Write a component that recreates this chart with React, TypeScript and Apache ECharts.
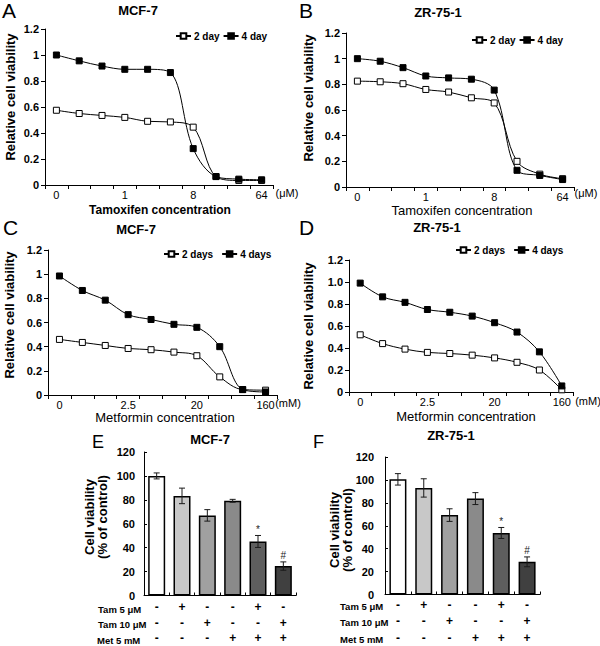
import React, { useEffect, useRef } from "react";
import * as echarts from "echarts";

const FONT = "'Liberation Sans', Arial, Helvetica, sans-serif";

// ---- Data ----
const tamCats = ["0", "0.25", "0.5", "1", "2", "4", "8", "16", "32", "64"];
const metCats = ["0", "0.625", "1.25", "2.5", "5", "10", "20", "40", "80", "160"];

const aDay2 = [0.575, 0.55, 0.535, 0.52, 0.49, 0.485, 0.445, 0.065, 0.035, 0.035];
const aDay4 = [1.0, 0.955, 0.915, 0.89, 0.89, 0.865, 0.28, 0.065, 0.045, 0.04];

const bDay2 = [0.825, 0.82, 0.805, 0.76, 0.74, 0.695, 0.655, 0.2, 0.1, 0.065];
const bDay4 = [1.0, 0.98, 0.93, 0.865, 0.85, 0.84, 0.755, 0.13, 0.09, 0.058];

const cDay2 = [0.46, 0.435, 0.41, 0.385, 0.375, 0.355, 0.325, 0.15, 0.045, 0.04];
const cDay4 = [0.985, 0.865, 0.785, 0.665, 0.625, 0.585, 0.56, 0.4, 0.045, 0.025];

const dDay2 = [0.52, 0.44, 0.39, 0.36, 0.35, 0.335, 0.31, 0.27, 0.2, 0.02];
const dDay4 = [0.99, 0.865, 0.815, 0.75, 0.725, 0.69, 0.63, 0.545, 0.365, 0.055];

const barCats = ["Control", "Tam 5", "Tam 10", "Met 5", "Tam 5 + Met 5", "Tam 10 + Met 5"];
const tam5Row = ["-", "+", "-", "-", "+", "-"];
const tam10Row = ["-", "-", "+", "-", "-", "+"];
const met5Row = ["-", "-", "-", "+", "+", "+"];
const rowLabels = ["Tam 5 μM", "Tam 10 μM", "Met 5 mM"];

const eVals = [100, 83.3, 67, 79.2, 45.2, 24.6];
const eErr = [2.5, 6.5, 4.8, 1.2, 5, 3.5];
const fVals = [100.5, 93, 69.3, 83.7, 53.7, 28.5];
const fErr = [5, 8, 5.5, 5.2, 4.8, 4.3];
const sigMarks = ["", "", "", "", "*", "#"];
const barColors = ["#ffffff", "#c8c8c8", "#a0a0a0", "#8a8a8a", "#5e5e5e", "#404040"];

// ---- Builders ----
const lineX = (gridIndex: number, cats: string[]) => ({
  type: "category",
  gridIndex,
  data: cats,
  boundaryGap: true,
  axisLine: { lineStyle: { color: "#000", width: 1 } },
  axisTick: { show: true, inside: false, length: 4, interval: 0, lineStyle: { color: "#000" } },
  axisLabel: {
    interval: (i: number) => i % 3 === 0,
    color: "#000",
    fontSize: 11,
    margin: 4,
    fontFamily: FONT,
  },
  splitLine: { show: false },
});

const lineY = (gridIndex: number, oneDecimal: boolean) => ({
  type: "value",
  gridIndex,
  min: 0,
  max: 1.2,
  interval: 0.2,
  axisLine: { show: true, lineStyle: { color: "#000", width: 1 } },
  axisTick: { show: true, inside: false, length: 4, lineStyle: { color: "#000" } },
  axisLabel: {
    color: "#000",
    fontSize: 11,
    fontWeight: "bold",
    margin: 6,
    fontFamily: FONT,
    formatter: (v: number) => (v === 0 ? "0" : oneDecimal ? v.toFixed(1) : String(Math.round(v * 10) / 10)),
  },
  splitLine: { show: false },
});

const lineSeries = (name: string, data: number[], idx: number, filled: boolean) => ({
  type: "line",
  name,
  data,
  xAxisIndex: idx,
  yAxisIndex: idx,
  smooth: 0.35,
  symbol: "rect",
  symbolSize: 6,
  lineStyle: { color: "#000", width: 1 },
  itemStyle: { color: filled ? "#000" : "#fff", borderColor: "#000", borderWidth: 1 },
  z: filled ? 3 : 2,
});

const barX = (gridIndex: number, lineHeight: number, margin: number) => ({
  type: "category",
  gridIndex,
  data: barCats,
  axisLine: { lineStyle: { color: "#000", width: 1 } },
  axisTick: { show: true, inside: true, length: 3, interval: 0, lineStyle: { color: "#000" } },
  axisLabel: {
    interval: 0,
    color: "#000",
    fontSize: 12,
    fontWeight: "bold",
    lineHeight,
    margin,
    fontFamily: FONT,
    formatter: (_v: string, i: number) => `${tam5Row[i]}\n${tam10Row[i]}\n${met5Row[i]}`,
  },
});

const barY = (gridIndex: number, margin: number) => ({
  type: "value",
  gridIndex,
  min: 0,
  max: 120,
  interval: 20,
  axisLine: { show: true, lineStyle: { color: "#000", width: 1 } },
  axisTick: { show: true, inside: true, length: 3, lineStyle: { color: "#000" } },
  axisLabel: { color: "#000", fontSize: 11, fontWeight: "bold", margin, fontFamily: FONT },
  splitLine: { show: false },
});

const barSeries = (vals: number[], idx: number) => ({
  type: "bar",
  xAxisIndex: idx,
  yAxisIndex: idx,
  barWidth: 17,
  data: vals.map((v, i) => ({ value: v, itemStyle: { color: barColors[i] } })),
  itemStyle: { borderColor: "#000", borderWidth: 1.5 },
});

const errSeries = (vals: number[], errs: number[], idx: number) => ({
  type: "custom",
  xAxisIndex: idx,
  yAxisIndex: idx,
  z: 5,
  encode: { x: 0, y: 1 },
  data: vals.map((v, i) => [i, v, errs[i]]),
  renderItem: (params: any, api: any) => {
    const i = api.value(0);
    const v = api.value(1);
    const e = api.value(2);
    const top = api.coord([i, v + e]);
    const bot = api.coord([i, v - e]);
    const hw = 3;
    const st = { stroke: "#1a1a1a", lineWidth: 1 };
    const children: any[] = [
      { type: "line", shape: { x1: top[0], y1: top[1], x2: bot[0], y2: bot[1] }, style: st },
      { type: "line", shape: { x1: top[0] - hw, y1: top[1], x2: top[0] + hw, y2: top[1] }, style: st },
      { type: "line", shape: { x1: bot[0] - hw, y1: bot[1], x2: bot[0] + hw, y2: bot[1] }, style: st },
    ];
    const sig = sigMarks[params.dataIndex];
    if (sig) {
      children.push({
        type: "text",
        style: {
          text: sig,
          x: top[0],
          y: top[1] - 1,
          textAlign: "center",
          textVerticalAlign: "bottom",
          fontSize: 10,
          fontFamily: FONT,
          fill: "#222",
        },
      });
    }
    return { type: "group", children };
  },
});

const txt = (
  text: string,
  x: number,
  y: number,
  size: number,
  bold: boolean,
  align: string = "center",
  rotate: number = 0,
  lineHeight?: number
) => ({
  type: "text",
  x,
  y,
  rotation: rotate,
  style: {
    text,
    x: 0,
    y: 0,
    fill: "#000",
    fontSize: size,
    fontWeight: bold ? "bold" : "normal",
    fontFamily: FONT,
    textAlign: align,
    textVerticalAlign: "middle",
    lineHeight: lineHeight,
  },
});

const legendStyle = (names: string[], left: number, top: number, gap: number) => ({
  data: names,
  left,
  top,
  padding: 0,
  itemGap: gap,
  itemWidth: 15,
  itemHeight: 7,
  textStyle: { fontSize: 10, fontWeight: "bold", color: "#000", fontFamily: FONT, padding: [0, 0, 0, -2] },
});

const option: any = {
  animation: false,
  backgroundColor: "#fff",
  textStyle: { fontFamily: FONT },
  grid: [
    { left: 45, top: 29, width: 228, height: 156 },
    { left: 346, top: 33, width: 228, height: 154 },
    { left: 48, top: 250, width: 229, height: 145 },
    { left: 349, top: 260, width: 224, height: 132 },
    { left: 144, top: 452, width: 152, height: 145 },
    { left: 385, top: 457, width: 155, height: 139 },
  ],
  xAxis: [
    lineX(0, tamCats),
    lineX(1, tamCats),
    lineX(2, metCats),
    lineX(3, metCats),
    barX(4, 15.5, 4),
    barX(5, 16.5, 2),
  ],
  yAxis: [lineY(0, false), lineY(1, false), lineY(2, false), lineY(3, true), barY(4, 9), barY(5, 11)],
  legend: [
    legendStyle(["2 day", "4 day"], 175, 31, 3),
    legendStyle(["2 day", "4 day"], 471, 35, 3),
    legendStyle(["2 days", "4 days"], 163, 249, 8),
    legendStyle(["2 days", "4 days"], 455, 245, 8),
  ],
  series: [
    lineSeries("2 day", aDay2, 0, false),
    lineSeries("4 day", aDay4, 0, true),
    lineSeries("2 day", bDay2, 1, false),
    lineSeries("4 day", bDay4, 1, true),
    lineSeries("2 days", cDay2, 2, false),
    lineSeries("4 days", cDay4, 2, true),
    lineSeries("2 days", dDay2, 3, false),
    lineSeries("4 days", dDay4, 3, true),
    barSeries(eVals, 4),
    errSeries(eVals, eErr, 4),
    barSeries(fVals, 5),
    errSeries(fVals, fErr, 5),
  ],
  graphic: [
    // panel letters
    txt("A", 2, 10, 21, false, "left"),
    txt("B", 299, 10, 21, false, "left"),
    txt("C", 3, 227, 21, false, "left"),
    txt("D", 299, 227, 21, false, "left"),
    txt("E", 92, 442, 18, false, "left"),
    txt("F", 313, 442, 18, false, "left"),
    // panel titles
    txt("MCF-7", 138, 10, 13, true),
    txt("ZR-75-1", 438, 12, 13, true),
    txt("MCF-7", 136, 229, 13, true),
    txt("ZR-75-1", 437, 227, 13, true),
    txt("MCF-7", 210, 439, 13, true),
    txt("ZR-75-1", 451, 435, 13, true),
    // y titles
    txt("Relative cell viability", 10, 97, 13, true, "center", Math.PI / 2),
    txt("Relative cell viability", 308, 98, 13, true, "center", Math.PI / 2),
    txt("Relative cell viability", 9, 315, 13, true, "center", Math.PI / 2),
    txt("Relative cell viability", 308, 326, 13, true, "center", Math.PI / 2),
    txt("Cell viability\n(% of control)", 96, 517, 13, true, "center", Math.PI / 2, 13),
    txt("Cell viability\n(% of control)", 341, 530, 13, true, "center", Math.PI / 2, 13),
    // x titles
    txt("Tamoxifen concentration", 160, 210, 12, true),
    txt("Tamoxifen concentration", 462, 210, 13, false),
    txt("Metformin concentration", 165, 417, 13, false),
    txt("Metformin concentration", 466, 416, 13, false),
    // units
    txt("(μM)", 287, 193, 11, false),
    txt("(μM)", 586, 193, 11, false),
    txt("(mM)", 288, 403, 11, false),
    txt("(mM)", 588, 401, 11, false),
    // table row labels
    txt(rowLabels[0], 98, 609, 9.5, true, "left"),
    txt(rowLabels[1], 98, 624, 9.5, true, "left"),
    txt(rowLabels[2], 97, 640, 9.5, true, "left"),
    txt(rowLabels[0], 340, 606, 9.5, true, "left"),
    txt(rowLabels[1], 340, 622, 9.5, true, "left"),
    txt(rowLabels[2], 340, 639, 9.5, true, "left"),
  ],
};

export default function App() {
  const ref = useRef<HTMLDivElement>(null);
  useEffect(() => {
    if (!ref.current) return;
    const chart = echarts.init(ref.current, null, { renderer: "svg" });
    chart.setOption(option);
    return () => chart.dispose();
  }, []);
  return (
    <div
      ref={ref}
      style={{ position: "absolute", left: 0, top: 0, width: 600, height: 646, background: "#fff" }}
    />
  );
}
